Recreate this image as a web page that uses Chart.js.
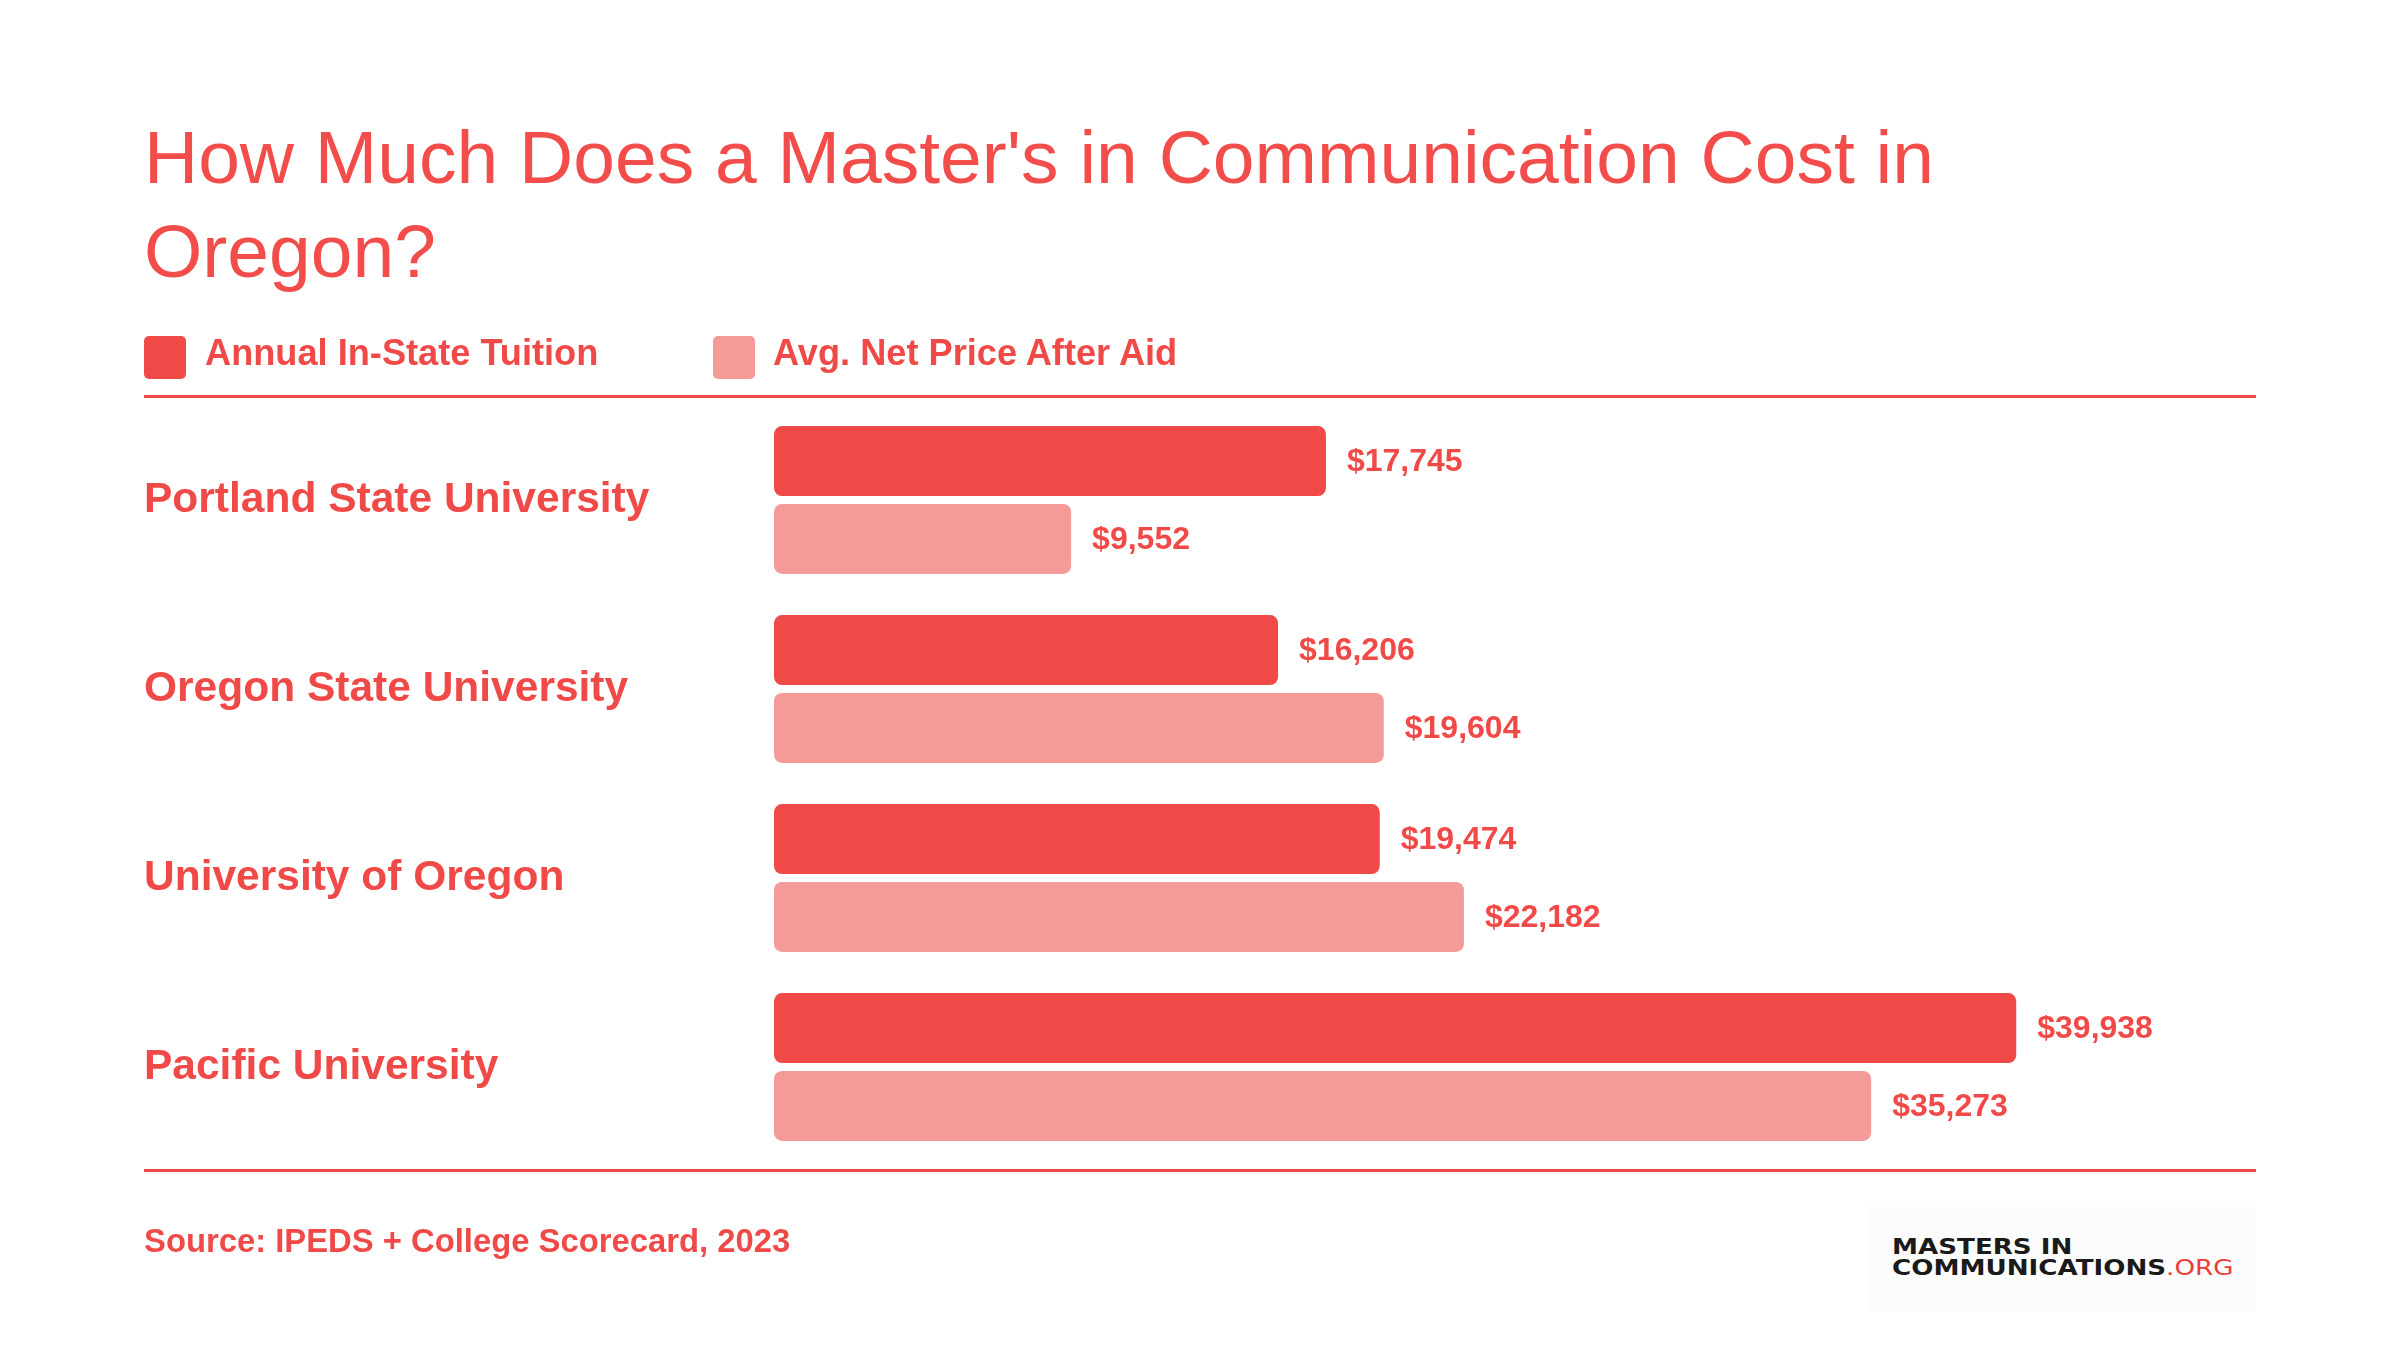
<!DOCTYPE html>
<html>
<head>
<meta charset="utf-8">
<script src="https://cdn.jsdelivr.net/npm/chart.js@4"></script>
<style>
  html, body { margin: 0; padding: 0; background: #fff; }
  body { width: 2400px; height: 1350px; position: relative; overflow: hidden; font-family: "Liberation Sans", Arial, sans-serif; color: #F04A48; }
  #chart { position: absolute; left: 0; top: 0; }
  .title { position: absolute; left: 144px; top: 110px; width: 2050px; font-size: 75px; line-height: 94px; color: #F24D4A; }
  .legend-box { position: absolute; top: 336px; width: 42px; height: 43px; border-radius: 5px; }
  .legend-text { position: absolute; top: 335px; font-size: 36.2px; line-height: 36px; font-weight: bold; white-space: nowrap; }
  .rule { position: absolute; left: 144px; width: 2112px; height: 3px; background: #F04A48; }
  .source { position: absolute; left: 144px; top: 1224px; font-size: 32.8px; line-height: 33px; font-weight: bold; white-space: nowrap; }
  .logo { position: absolute; left: 1867px; top: 1207px; width: 389px; height: 105px; background: #fcfcfc; }
  .logo div { position: absolute; left: 25px; font-family: "DejaVu Sans", sans-serif; font-weight: bold; font-size: 20.5px; line-height: 21px; color: #1a1a1a; white-space: nowrap; transform: scaleX(1.275); transform-origin: left; }
  .logo span { color: #EE3B37; font-weight: normal; }
</style>
</head>
<body>
<canvas id="chart" width="2400" height="1350"></canvas>

<div class="title">How Much Does a Master's in Communication Cost in<br>Oregon?</div>

<div class="legend-box" style="left:144px;background:#F04A48"></div>
<div class="legend-text" style="left:205px">Annual In-State Tuition</div>
<div class="legend-box" style="left:713px;background:#F49B99"></div>
<div class="legend-text" style="left:773px">Avg. Net Price After Aid</div>

<div class="rule" style="top:395px"></div>
<div class="rule" style="top:1169px"></div>

<div class="source">Source: IPEDS + College Scorecard, 2023</div>

<div class="logo">
  <div style="top:30px">MASTERS IN</div>
  <div style="top:51px">COMMUNICATIONS<span>.ORG</span></div>
</div>

<script>
// --- DATA ---
const universities = ['Portland State University', 'Oregon State University', 'University of Oregon', 'Pacific University'];
const tuition = [17745, 16206, 19474, 39938];
const netPrice = [9552, 19604, 22182, 35273];
const seriesNames = ['Annual In-State Tuition', 'Avg. Net Price After Aid'];

const red = '#F04A48';
const lightRed = '#F49B99';
const fontFamily = '"Liberation Sans", Arial, sans-serif';

// draws "$xx,xxx" to the right of each bar
const valueLabels = {
    id: 'valueLabels',
    afterDatasetsDraw(chart) {
        const ctx = chart.ctx;
        ctx.save();
        ctx.font = 'bold 32px ' + fontFamily;
        ctx.fillStyle = red;
        ctx.textBaseline = 'middle';
        ctx.textAlign = 'left';
        chart.data.datasets.forEach((ds, i) => {
            chart.getDatasetMeta(i).data.forEach((bar, j) => {
                ctx.fillText('$' + ds.data[j].toLocaleString('en-US'), bar.x + 21, bar.y + 1);
            });
        });
        ctx.restore();
    }
};

const ctx = document.getElementById('chart').getContext('2d');

new Chart(ctx, {
    type: 'bar',
    data: {
        labels: universities,
        datasets: [
            {
                label: seriesNames[0],
                data: tuition,
                backgroundColor: red,
                borderRadius: 8,
                borderSkipped: false
            },
            {
                label: seriesNames[1],
                data: netPrice,
                backgroundColor: lightRed,
                borderRadius: 8,
                borderSkipped: false
            }
        ]
    },
    options: {
        indexAxis: 'y',
        responsive: false,
        animation: false,
        devicePixelRatio: 1,
        categoryPercentage: 0.825,
        barPercentage: 0.897,
        layout: {
            padding: { top: 405.5, bottom: 188.5, left: 144, right: 133 }
        },
        plugins: {
            legend: { display: false },
            tooltip: { enabled: false }
        },
        scales: {
            x: {
                display: false,
                min: 0,
                max: 48000
            },
            y: {
                grid: { display: false },
                border: { display: false },
                afterFit: (scale) => { scale.width = 630; },
                ticks: {
                    crossAlign: 'far',
                    color: red,
                    font: { family: fontFamily, size: 42.5, weight: 'bold' }
                }
            }
        }
    },
    plugins: [valueLabels]
});
</script>
</body>
</html>
